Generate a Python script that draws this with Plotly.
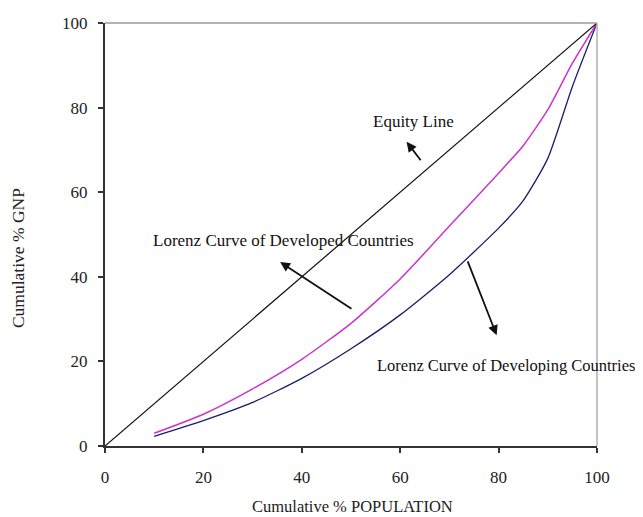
import plotly.graph_objects as go

population = [10, 20, 30, 40, 50, 60, 70, 80, 85, 90, 95, 100]
developed = [3.0, 7.5, 13.5, 20.5, 29.0, 39.5, 52.0, 64.5, 71.0, 79.5, 90.5, 100.0]
developing = [2.3, 6.0, 10.3, 16.0, 23.0, 31.0, 40.5, 51.5, 58.0, 68.0, 85.0, 100.0]
equity_x = [0, 100]
equity_y = [0, 100]
tick_vals = [0, 20, 40, 60, 80, 100]

FONT = "Liberation Serif"

fig = go.Figure()
fig.add_trace(go.Scatter(x=population, y=developing, mode="lines",
                         line=dict(color="#1c1c6a", width=1.3, shape="spline", smoothing=0.6),
                         showlegend=False, hoverinfo="skip"))
fig.add_trace(go.Scatter(x=population, y=developed, mode="lines",
                         line=dict(color="#cc33cc", width=1.5, shape="spline", smoothing=0.6),
                         showlegend=False, hoverinfo="skip"))
fig.add_trace(go.Scatter(x=equity_x, y=equity_y, mode="lines",
                         line=dict(color="#111111", width=1.2),
                         showlegend=False, hoverinfo="skip"))

axis_common = dict(range=[0, 100], tickvals=tick_vals, showgrid=False, zeroline=False,
                   showline=True, linecolor="#333333", linewidth=2, automargin=False,
                   ticks="outside", ticklen=5, tickcolor="#333333", tickwidth=1.5,
                   tickfont=dict(family=FONT, size=17, color="#222222"))

fig.update_xaxes(**axis_common, ticklabelstandoff=10)
fig.update_yaxes(**axis_common, ticklabelstandoff=7)

# light top/right border
fig.add_shape(type="line", xref="x domain", yref="y domain", x0=0, x1=1, y0=1, y1=1,
              line=dict(color="#9a9a9a", width=1.5))
fig.add_shape(type="line", xref="x domain", yref="y domain", x0=1, x1=1, y0=0, y1=1,
              line=dict(color="#b0b0b0", width=1.5))

arrow = dict(showarrow=True, arrowhead=2, arrowsize=1.1, arrowwidth=1.8, arrowcolor="#111111",
             axref="x", ayref="y", text="")
fig.add_annotation(x=61.3, y=71.9, ax=64.4, ay=67.2, **arrow)
fig.add_annotation(x=35.6, y=43.5, ax=50.4, ay=32.2, **arrow)
fig.add_annotation(x=79.6, y=26.2, ax=73.6, ay=44.0, **arrow)

txt = dict(showarrow=False, font=dict(family=FONT, size=17, color="#111111"))
fig.add_annotation(x=62.8, y=76.6, text="Equity Line", **txt)
fig.add_annotation(x=36.2, y=48.7, text="Lorenz Curve of Developed Countries", **txt)
fig.add_annotation(x=81.6, y=19.1, text="Lorenz Curve of Developing Countries",
                   showarrow=False, font=dict(family=FONT, size=16.5, color="#111111"))

# axis titles
fig.add_annotation(xref="paper", yref="paper", x=0.504, y=-0.144, showarrow=False,
                   xanchor="center", yanchor="middle",
                   text="Cumulative % POPULATION",
                   font=dict(family=FONT, size=16.5, color="#222222"))
fig.add_annotation(xref="paper", yref="paper", x=-0.177, y=0.444, showarrow=False,
                   xanchor="center", yanchor="middle",
                   text="Cumulative % GNP", textangle=-90,
                   font=dict(family=FONT, size=17.5, color="#222222"))

# page body has an 8px margin; compensate so the plot area lands where the reference has it
fig.update_layout(width=635, height=509, margin=dict(l=97, r=46, t=15, b=71),
                  plot_bgcolor="white", paper_bgcolor="white")

fig.write_html("out.html")
